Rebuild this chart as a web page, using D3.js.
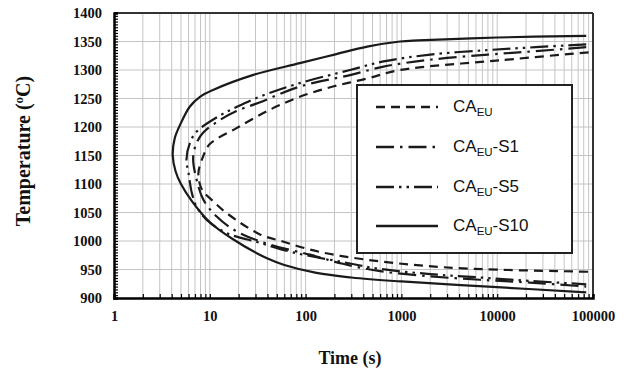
<!DOCTYPE html>
<html>
<head>
<meta charset="utf-8">
<script src="https://cdn.jsdelivr.net/npm/d3@7"></script>
<style>
  html, body { margin: 0; padding: 0; background: #fff; }
  svg { display: block; }
</style>
</head>
<body>
<svg id="chart" width="626" height="374"></svg>
<script>
// ---- data (time in s, temperature in °C), ordered along each C-curve ----
const seriesNames = ["CA_EU", "CA_EU-S1", "CA_EU-S5", "CA_EU-S10"];

const caEU = [[90000,1331],[10700,1317],[967,1300],[437,1285],[193,1271],[87,1253],[42,1230],[19,1198],[10,1170],[8.5,1148],[7.6,1118],[8.3,1090],[10.8,1070],[15,1049],[33,1012],[58,999],[111,985],[230,974],[890,961],[4400,952],[95000,946]];

const caEU_S1 = [[85000,1340],[25000,1333],[8000,1327],[2000,1318],[650,1306],[291,1291],[87,1271],[33,1243],[19,1228],[12.7,1212],[8.5,1190],[7.2,1170],[6.7,1145],[7.3,1107],[8.6,1072],[11.8,1043],[19,1017],[42,994],[111,976],[245,960],[600,947],[2000,938],[6600,932],[22000,927],[85000,920]];

const caEU_S5 = [[85000,1345],[25000,1340],[8000,1335],[2000,1327],[650,1315],[291,1300],[87,1277],[33,1253],[19,1235],[12.7,1220],[7.3,1192],[6.2,1172],[5.7,1142],[6.0,1119],[6.5,1084],[7.3,1060],[9.3,1037],[15,1014],[33,997],[74,980],[245,963],[600,951],[2000,942],[6600,936],[22000,930],[85000,924]];

const caEU_S10 = [[85000,1360],[10000,1357],[1500,1352],[970,1350],[440,1341],[200,1327],[87,1312],[28,1291],[10.8,1265],[7.9,1253],[6.2,1236],[4.9,1204],[4.3,1180],[4.1,1151],[4.4,1122],[5.0,1100],[6.5,1070],[10,1033],[17.5,1003],[39,970],[60,958],[130,944],[300,936],[1000,929],[10000,919],[85000,910]];

const yTickLabels = [900, 950, 1000, 1050, 1100, 1150, 1200, 1250, 1300, 1350, 1400];
const xTickLabels = [1, 10, 100, 1000, 10000, 100000];

// ---- layout ----
const svg = d3.select("#chart");
const L = 114, R = 593, T = 13, B = 298;
const x = d3.scaleLog().domain([1, 100000]).range([L, R]);
const y = d3.scaleLinear().domain([900, 1400]).range([B, T]);

const minorX = [];
xTickLabels.forEach(d => { if (d < 100000) for (let k = 1; k <= 9; k++) minorX.push(d * k); });
minorX.push(100000);
const minorY = d3.range(900, 1401, 5);

// gridlines
const grid = svg.append("g");
grid.selectAll("line.vx").data(minorX.filter(d => d > 1 && d < 100000)).join("line")
  .attr("x1", d => x(d)).attr("x2", d => x(d)).attr("y1", T).attr("y2", B)
  .attr("stroke", "#c4c4c4").attr("stroke-width", 1);
grid.selectAll("line.hy").data(yTickLabels.filter(d => d > 900 && d < 1400)).join("line")
  .attr("x1", L).attr("x2", R).attr("y1", d => y(d)).attr("y2", d => y(d))
  .attr("stroke", "#c4c4c4").attr("stroke-width", 1);

// frame top/right
svg.append("line").attr("x1", L).attr("x2", R).attr("y1", T).attr("y2", T).attr("stroke", "#333").attr("stroke-width", 2);
svg.append("line").attr("x1", R).attr("x2", R).attr("y1", T).attr("y2", B).attr("stroke", "#333").attr("stroke-width", 2);

// axes
const yAxis = d3.axisLeft(y).tickValues(minorY).tickSize(-4).tickPadding(12)
  .tickFormat(d => yTickLabels.includes(d) ? d : "");
const gy = svg.append("g").attr("transform", `translate(${L},0)`).call(yAxis);
gy.select(".domain").attr("stroke", "#000").attr("stroke-width", 2.5);
gy.selectAll(".tick line").attr("stroke", "#000").attr("stroke-width", 1.2);
gy.selectAll("text").attr("font-family", "'Liberation Serif', 'Times New Roman', serif")
  .attr("font-weight", "bold").attr("font-size", 14.5).attr("fill", "#111");

const xAxis = d3.axisBottom(x).tickValues(minorX).tickSize(-4).tickPadding(13)
  .tickFormat(d => xTickLabels.includes(d) ? d : "");
const gx = svg.append("g").attr("transform", `translate(0,${B})`).call(xAxis);
gx.select(".domain").attr("stroke", "#000").attr("stroke-width", 2.5);
gx.selectAll(".tick line").attr("stroke", "#000").attr("stroke-width", 1.2);
gx.selectAll("text").attr("font-family", "'Liberation Serif', 'Times New Roman', serif")
  .attr("font-weight", "bold").attr("font-size", 14.5).attr("fill", "#111");

// series
const styles = {
  "CA_EU":     { data: caEU,     dash: "9,6" },
  "CA_EU-S1":  { data: caEU_S1,  dash: "18,6,2.5,6" },
  "CA_EU-S5":  { data: caEU_S5,  dash: "18,5,2.5,5,2.5,5" },
  "CA_EU-S10": { data: caEU_S10, dash: null }
};
const line = d3.line().x(d => x(d[0])).y(d => y(d[1])).curve(d3.curveCatmullRom.alpha(0.5));
seriesNames.forEach(n => {
  svg.append("path").attr("d", line(styles[n].data))
    .attr("fill", "none").attr("stroke", "#1a1a1a").attr("stroke-width", 2.2)
    .attr("stroke-dasharray", styles[n].dash);
});

// legend
const lg = svg.append("g");
lg.append("rect").attr("x", 357).attr("y", 85).attr("width", 215).attr("height", 168)
  .attr("fill", "#fff").attr("stroke", "#222").attr("stroke-width", 2);
const rowY = [107, 147, 187, 226];
seriesNames.forEach((n, i) => {
  lg.append("line").attr("x1", 376).attr("x2", 438).attr("y1", rowY[i]).attr("y2", rowY[i])
    .attr("stroke", "#1a1a1a").attr("stroke-width", 2.4).attr("stroke-dasharray", styles[n].dash);
  const t = lg.append("text").attr("x", 453).attr("y", rowY[i] + 5)
    .attr("font-family", "'Liberation Sans', Arial, sans-serif").attr("font-size", 17).attr("fill", "#111");
  t.append("tspan").text("CA");
  t.append("tspan").attr("font-size", 11.5).attr("dy", 4).text("EU");
  const suffix = n.split("CA_EU")[1];
  if (suffix) t.append("tspan").attr("dy", -4).text(suffix);
});

// axis titles
const yt = svg.append("text").attr("transform", "translate(30,151) rotate(-90)")
  .attr("text-anchor", "middle").attr("font-family", "'Liberation Serif', 'Times New Roman', serif")
  .attr("font-weight", "bold").attr("font-size", 20).attr("fill", "#111");
yt.append("tspan").text("Temperature (");
yt.append("tspan").attr("font-size", 13).attr("dy", -7).text("o");
yt.append("tspan").attr("dy", 7).text("C)");

svg.append("text").attr("x", 350).attr("y", 364).attr("text-anchor", "middle")
  .attr("font-family", "'Liberation Serif', 'Times New Roman', serif")
  .attr("font-weight", "bold").attr("font-size", 18).attr("fill", "#111").text("Time (s)");
</script>
</body>
</html>
